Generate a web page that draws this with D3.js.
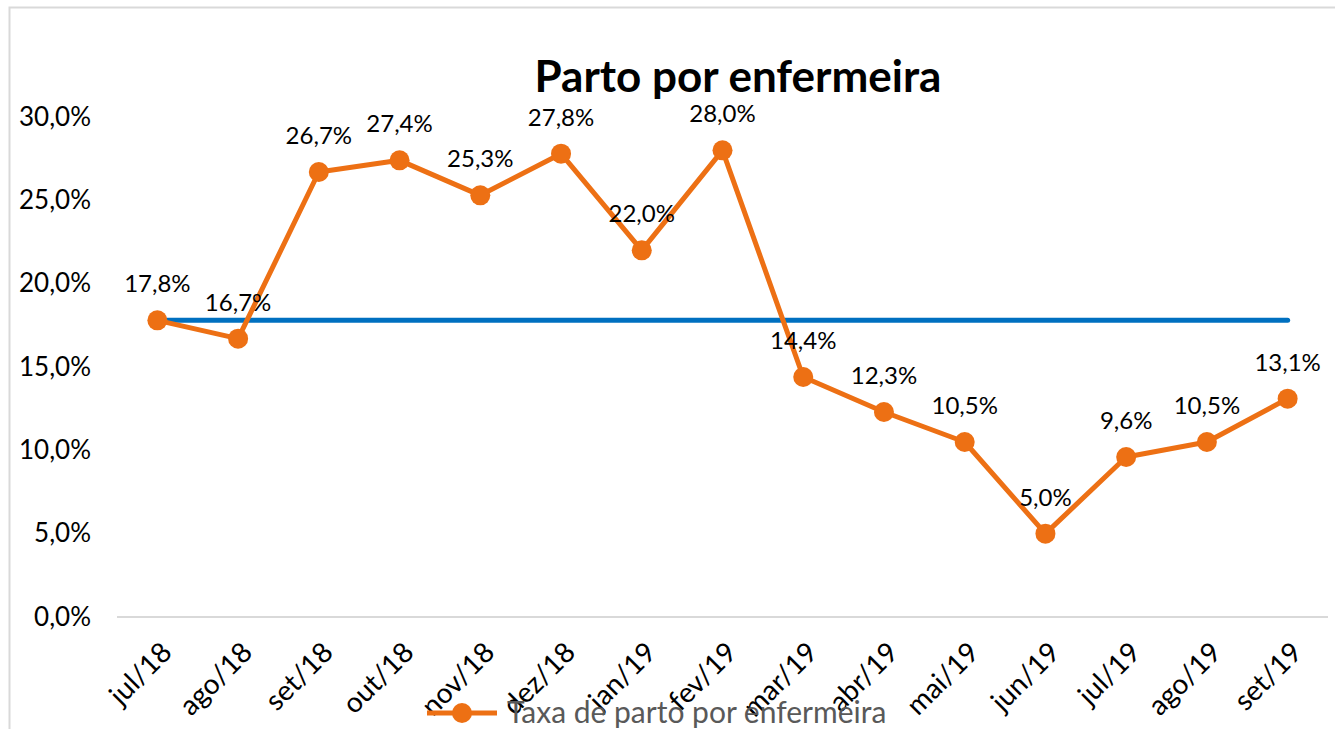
<!DOCTYPE html>
<html>
<head>
<meta charset="utf-8">
<script src="https://cdn.jsdelivr.net/npm/d3@7"></script>
<style>
  html, body { margin: 0; padding: 0; background: #fff; }
  svg { display: block; font-family: Lato, "Open Sans", sans-serif; }
</style>
</head>
<body>
<svg id="chart" width="1335" height="729"></svg>
<script>
// chart data
const months = ["jul/18", "ago/18", "set/18", "out/18", "nov/18", "dez/18", "jan/19", "fev/19",
  "mar/19", "abr/19", "mai/19", "jun/19", "jul/19", "ago/19", "set/19"];
const taxa = [17.8, 16.7, 26.7, 27.4, 25.3, 27.8, 22.0, 28.0, 14.4, 12.3, 10.5, 5.0, 9.6, 10.5, 13.1];
const media = [17.8, 17.8, 17.8, 17.8, 17.8, 17.8, 17.8, 17.8, 17.8, 17.8, 17.8, 17.8, 17.8, 17.8, 17.8];
const yTicks = [0, 5, 10, 15, 20, 25, 30];

const orange = "#ED7014";
const blue = "#0070C0";

const svg = d3.select("#chart");
const W = 1335, H = 729;
const plot = { left: 117, right: 1328, top: 117, bottom: 617 };

const fmt = v => v.toFixed(1).replace(".", ",") + "%";

// frame
svg.append("rect")
  .attr("x", 9.5).attr("y", 7.5)
  .attr("width", W + 20).attr("height", H + 20)
  .attr("fill", "none")
  .attr("stroke", "#d9d9d9")
  .attr("stroke-width", 2);

const x = d3.scaleBand().domain(months).range([plot.left, plot.right]);
const y = d3.scaleLinear().domain([0, 30]).range([plot.bottom, plot.top]);
const cx = d => x(d) + x.bandwidth() / 2;

// title
svg.append("text")
  .attr("x", 738).attr("y", 92)
  .attr("text-anchor", "middle")
  .attr("font-size", 44).attr("font-weight", 700)
  .attr("fill", "#000")
  .text("Parto por enfermeira");

// y axis labels
const yAxis = svg.append("g")
  .attr("transform", `translate(${plot.left - 26},0)`)
  .call(d3.axisLeft(y).tickValues(yTicks).tickFormat(d => fmt(d)).tickSize(0).tickPadding(0));
yAxis.select(".domain").remove();
yAxis.selectAll("text")
  .attr("font-size", 26).attr("fill", "#000")
  .attr("font-family", "Lato, sans-serif");

// baseline
svg.append("line")
  .attr("x1", plot.left).attr("x2", plot.right)
  .attr("y1", y(0)).attr("y2", y(0))
  .attr("stroke", "#d9d9d9").attr("stroke-width", 2);

// x axis labels
const xAxis = svg.append("g")
  .attr("transform", `translate(0,${plot.bottom})`)
  .call(d3.axisBottom(x).tickSize(0).tickPadding(0));
xAxis.select(".domain").remove();
xAxis.selectAll("text")
  .attr("font-size", 28).attr("fill", "#000")
  .attr("font-family", "Lato, sans-serif")
  .attr("text-anchor", "end")
  .attr("dy", null)
  .attr("transform", "translate(16,37) rotate(-45)");

// average line
const lineGen = d3.line().x((d, i) => cx(months[i])).y(d => y(d));
svg.append("path")
  .datum(media)
  .attr("d", lineGen)
  .attr("fill", "none")
  .attr("stroke", blue)
  .attr("stroke-width", 5)
  .attr("stroke-linecap", "round");

// series line
svg.append("path")
  .datum(taxa)
  .attr("d", lineGen)
  .attr("fill", "none")
  .attr("stroke", orange)
  .attr("stroke-width", 5)
  .attr("stroke-linejoin", "round");

svg.append("g").selectAll("circle")
  .data(taxa)
  .join("circle")
  .attr("cx", (d, i) => cx(months[i]))
  .attr("cy", d => y(d))
  .attr("r", 10)
  .attr("fill", orange);

// data labels
svg.append("g").selectAll("text")
  .data(taxa)
  .join("text")
  .attr("x", (d, i) => cx(months[i]))
  .attr("y", d => y(d) - 28)
  .attr("text-anchor", "middle")
  .attr("font-size", 24)
  .attr("fill", "#000")
  .text(d => fmt(d));

// legend
const lg = svg.append("g").attr("transform", "translate(427,713)");
lg.append("line")
  .attr("x1", 0).attr("x2", 70)
  .attr("stroke", orange).attr("stroke-width", 5);
lg.append("circle").attr("cx", 35).attr("r", 10).attr("fill", orange);
lg.append("text")
  .attr("x", 80).attr("y", 10)
  .attr("font-size", 30)
  .attr("fill", "#595959")
  .text("Taxa de parto por enfermeira");
</script>
</body>
</html>
